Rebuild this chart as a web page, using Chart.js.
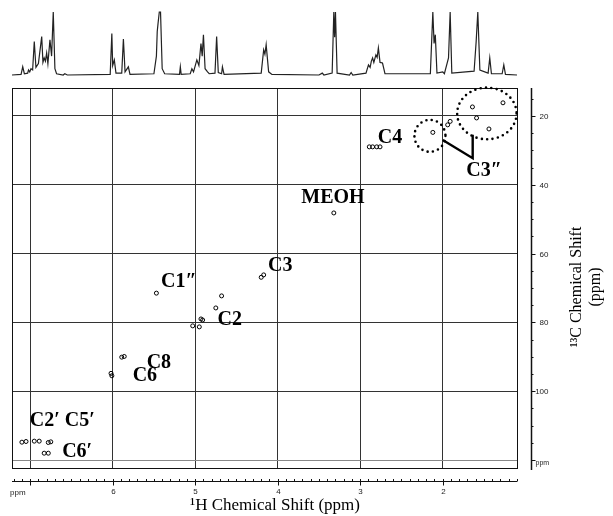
<!DOCTYPE html>
<html>
<head>
<meta charset="utf-8">
<script src="https://cdn.jsdelivr.net/npm/chart.js@4.4.1/dist/chart.umd.min.js"></script>
<style>
  html, body { margin: 0; padding: 0; background: #fff; }
  #wrap { position: relative; width: 613px; height: 516px; }
  #wrap canvas { position: absolute; left: 0; top: 0; }
</style>
</head>
<body>
<div id="wrap">
  <canvas id="protonChart" width="613" height="88"></canvas>
  <canvas id="hsqcChart" width="613" height="516"></canvas>
</div>
<script>
// === Data ===
// 1H projection, vertices: [ppm, relative height]
const protonTrace = [
  [7.22, 0], [7.11, 0.01], [7.09, 0.13], [7.07, 0.02], [7.03, 0.03], [7.02, 0.08], [7.005, 0.05],
  [6.99, 0.10], [6.97, 0.08], [6.95, 0.53], [6.93, 0.12], [6.90, 0.18], [6.86, 0.61], [6.845, 0.20],
  [6.83, 0.27], [6.815, 0.22], [6.80, 0.35], [6.785, 0.18], [6.76, 0.56], [6.74, 0.30], [6.72, 1.0],
  [6.70, 0.10], [6.68, 0.02], [6.60, 0], [6.58, 0.02], [6.55, 0],
  [6.03, 0.01], [6.01, 0.66], [6.00, 0.15], [5.98, 0.24], [5.96, 0.03], [5.89, 0.03], [5.87, 0.57],
  [5.85, 0.05], [5.81, 0.13], [5.79, 0.01], [5.50, 0.02], [5.47, 0.30], [5.46, 0.69], [5.45, 0.82],
  [5.435, 1.0], [5.42, 1.0], [5.40, 0.10], [5.37, 0.02], [5.19, 0.01], [5.18, 0.13], [5.17, 0.01],
  [5.06, 0.02], [5.04, 0.10], [5.02, 0.05], [4.98, 0.24], [4.955, 0.15], [4.93, 0.50], [4.915, 0.30],
  [4.90, 0.64], [4.88, 0.10], [4.85, 0.05], [4.83, 0.02], [4.76, 0.03], [4.74, 0.61], [4.72, 0.04],
  [4.68, 0.02], [4.67, 0.13], [4.65, 0.01], [4.20, 0.03], [4.17, 0.40], [4.155, 0.33], [4.14, 0.48],
  [4.11, 0.05], [4.07, 0.01], [3.50, 0], [3.46, 0.03], [3.44, 0], [3.34, 0.03], [3.32, 1.0],
  [3.31, 0.60], [3.30, 1.0], [3.28, 0.03], [3.13, 0], [3.11, 0.04], [3.09, 0],
  [2.93, 0.03], [2.90, 0.16], [2.88, 0.12], [2.865, 0.22], [2.85, 0.27], [2.835, 0.20], [2.81, 0.32],
  [2.795, 0.28], [2.78, 0.43], [2.76, 0.20], [2.73, 0.19], [2.70, 0.02], [2.15, 0.02], [2.12, 1.0],
  [2.105, 0.50], [2.09, 0.64], [2.07, 0.03], [2.00, 0.05], [1.98, 0.02], [1.93, 0.27], [1.91, 1.0],
  [1.89, 0.03], [1.62, 0.06], [1.595, 0.53], [1.575, 1.0], [1.55, 0.08], [1.45, 0.03], [1.43, 0.27],
  [1.41, 0.02], [1.28, 0.02], [1.26, 0.16], [1.24, 0.01], [1.10, 0]
];

// HSQC cross peaks: 1H shift / 13C shift (ppm)
const peakH = [7.10, 7.05, 6.95, 6.89, 6.78, 6.75, 6.83, 6.78,
               6.02, 6.01, 5.89, 5.86, 5.47,
               4.68, 4.75, 4.93, 4.91, 5.03, 4.95,
               4.17, 4.20, 3.32,
               2.89, 2.85, 2.80, 2.76,
               2.12, 1.94, 1.91, 1.64, 1.59, 1.44, 1.27];
const peakC = [114.8, 114.6, 114.5, 114.5, 114.9, 114.7, 118.0, 118.0,
               94.8, 95.5, 90.1, 89.9, 71.5,
               72.3, 75.8, 79.0, 79.3, 81.0, 81.3,
               66.2, 66.9, 48.2,
               29.0, 29.0, 29.0, 29.0,
               24.8, 22.6, 21.6, 17.4, 20.6, 23.8, 16.2];

// assignments
const labelText = ["C4", "C3\u2033", "MEOH", "C3", "C1\u2033", "C2", "C8", "C6", "C2\u2032 C5\u2032", "C6\u2032"];
const labelH = [2.64, 1.50, 3.33, 3.97, 5.20, 4.58, 5.44, 5.61, 6.61, 6.43];
const labelC = [26.4, 36.0, 43.7, 63.5, 68.1, 79.2, 91.7, 95.6, 108.7, 117.7];

// dotted rings round the C3'' correlations
const ringH = [2.155, 1.465];
const ringC = [25.8, 19.3];
const ringRadH = [0.188, 0.36];
const ringRadC = [4.65, 7.5];

// C3'' pointer
const pointerH = [2.00, 1.637, 1.637];
const pointerC = [27.0, 32.3, 25.5];

// ruler labels
const hTickLabels = [2, 3, 4, 5, 6];
const cTickLabels = [20, 40, 60, 80, 100];

const H_MIN = 1.10, H_MAX = 7.22;
const C_MIN = 11.9, C_MAX = 122.3;

// === 1H projection on top ===
new Chart(document.getElementById("protonChart"), {
  type: "line",
  data: {
    datasets: [{
      data: protonTrace.map(p => ({ x: p[0], y: p[1] })),
      borderColor: "#222",
      borderWidth: 1.2,
      pointRadius: 0,
      tension: 0,
      clip: false
    }]
  },
  options: {
    responsive: false,
    animation: false,
    layout: { padding: { left: 12, right: 96, top: 12, bottom: 13 } },
    scales: {
      x: { type: "linear", reverse: true, min: H_MIN, max: H_MAX, display: false },
      y: { min: 0, max: 1, display: false }
    },
    plugins: { legend: { display: false }, tooltip: { enabled: false } }
  }
});

// === Overlay: frame, rulers, rings, labels, titles ===
const overlay = {
  id: "overlay",
  afterDraw(chart) {
    const { ctx, chartArea: a, scales: { x, y } } = chart;
    const px = v => Math.round(x.getPixelForValue(v)) + 0.5;
    const py = v => Math.round(y.getPixelForValue(v)) + 0.5;
    ctx.save();

    // frame
    ctx.strokeStyle = "#111";
    ctx.lineWidth = 1;
    ctx.strokeRect(Math.round(a.left) + 0.5, Math.round(a.top) + 0.5,
      Math.round(a.right - a.left), Math.round(a.bottom - a.top));

    // bottom 1H ruler
    const rb = Math.round(a.bottom) + 13.5;
    ctx.beginPath();
    ctx.moveTo(a.left, rb); ctx.lineTo(a.right, rb);
    for (let i = 11; i <= 72; i++) {
      const xx = px(i / 10);
      ctx.moveTo(xx, rb - 2.5);
      ctx.lineTo(xx, i % 10 === 0 ? rb + 4 : rb);
    }
    ctx.stroke();
    ctx.fillStyle = "#222";
    ctx.font = '8px "Liberation Sans"';
    ctx.textAlign = "center";
    ctx.textBaseline = "middle";
    hTickLabels.forEach(v => ctx.fillText(String(v), px(v), rb + 10));
    ctx.textAlign = "left";
    ctx.fillText("ppm", a.left - 2, rb + 11);

    // right 13C ruler
    const rr = Math.round(a.right) + 14.5;
    ctx.lineWidth = 1.5;
    ctx.beginPath();
    ctx.moveTo(rr, a.top); ctx.lineTo(rr, a.bottom + 2);
    ctx.stroke();
    ctx.lineWidth = 1;
    ctx.beginPath();
    for (let c = 15; c <= 120; c += 5) {
      const yy = py(c);
      ctx.moveTo(rr, yy);
      ctx.lineTo(rr + (c % 20 === 0 ? 4 : 2), yy);
    }
    ctx.stroke();
    ctx.textAlign = "right";
    cTickLabels.forEach(v => ctx.fillText(String(v), rr + 17, py(v)));
    ctx.textAlign = "left";
    ctx.font = '7px "Liberation Sans"';
    ctx.fillText("ppm", rr + 4, a.bottom - 5);

    // dotted rings
    ctx.strokeStyle = "#000";
    ctx.lineWidth = 2.6;
    ctx.lineCap = "round";
    ctx.setLineDash([0, 5.4]);
    ringH.forEach((h, i) => {
      const cx = x.getPixelForValue(h), cy = y.getPixelForValue(ringC[i]);
      const rx = Math.abs(x.getPixelForValue(h + ringRadH[i]) - cx);
      const ry = Math.abs(y.getPixelForValue(ringC[i] + ringRadC[i]) - cy);
      ctx.beginPath();
      ctx.ellipse(cx, cy, rx, ry, 0, 0, Math.PI * 2);
      ctx.stroke();
    });
    ctx.setLineDash([]);

    // pointer to C3''
    ctx.lineWidth = 2.4;
    ctx.lineCap = "butt";
    ctx.beginPath();
    pointerH.forEach((h, i) => {
      const xx = x.getPixelForValue(h), yy = y.getPixelForValue(pointerC[i]);
      if (i === 0) ctx.moveTo(xx, yy); else ctx.lineTo(xx, yy);
    });
    ctx.stroke();

    // assignment labels
    ctx.fillStyle = "#000";
    ctx.font = 'bold 20px "Liberation Serif"';
    ctx.textAlign = "center";
    ctx.textBaseline = "middle";
    labelText.forEach((t, i) => ctx.fillText(t, x.getPixelForValue(labelH[i]), y.getPixelForValue(labelC[i])));

    // axis titles
    ctx.font = '17px "Liberation Serif"';
    ctx.fillText("\u00B9H Chemical Shift (ppm)", 275, 506);
    ctx.font = '16px "Liberation Serif"';
    ctx.translate(577, 287);
    ctx.rotate(-Math.PI / 2);
    ctx.fillText("\u00B9\u00B3C Chemical Shift", 0, 0);
    ctx.fillText("(ppm)", 0, 19);
    ctx.restore();
  }
};

// === HSQC map ===
new Chart(document.getElementById("hsqcChart"), {
  type: "scatter",
  data: {
    datasets: [{
      data: peakH.map((h, i) => ({ x: h, y: peakC[i] })),
      pointStyle: "circle",
      pointRadius: 2,
      borderWidth: 1,
      borderColor: "#000",
      backgroundColor: "rgba(0,0,0,0)"
    }]
  },
  options: {
    responsive: false,
    animation: false,
    layout: { padding: { left: 12, right: 96, top: 88, bottom: 48 } },
    scales: {
      x: {
        type: "linear", reverse: true, min: H_MIN, max: H_MAX,
        ticks: { display: false, stepSize: 1, includeBounds: false },
        grid: { color: "#333", lineWidth: 1, drawTicks: false },
        border: { display: false }
      },
      y: {
        type: "linear", reverse: true, min: C_MIN, max: C_MAX,
        ticks: { display: false, stepSize: 20, includeBounds: false },
        grid: { color: ctx => ctx.tick && ctx.tick.value === 120 ? "#888" : "#333", lineWidth: 1, drawTicks: false },
        border: { display: false }
      }
    },
    plugins: { legend: { display: false }, tooltip: { enabled: false } }
  },
  plugins: [overlay]
});
</script>
</body>
</html>
